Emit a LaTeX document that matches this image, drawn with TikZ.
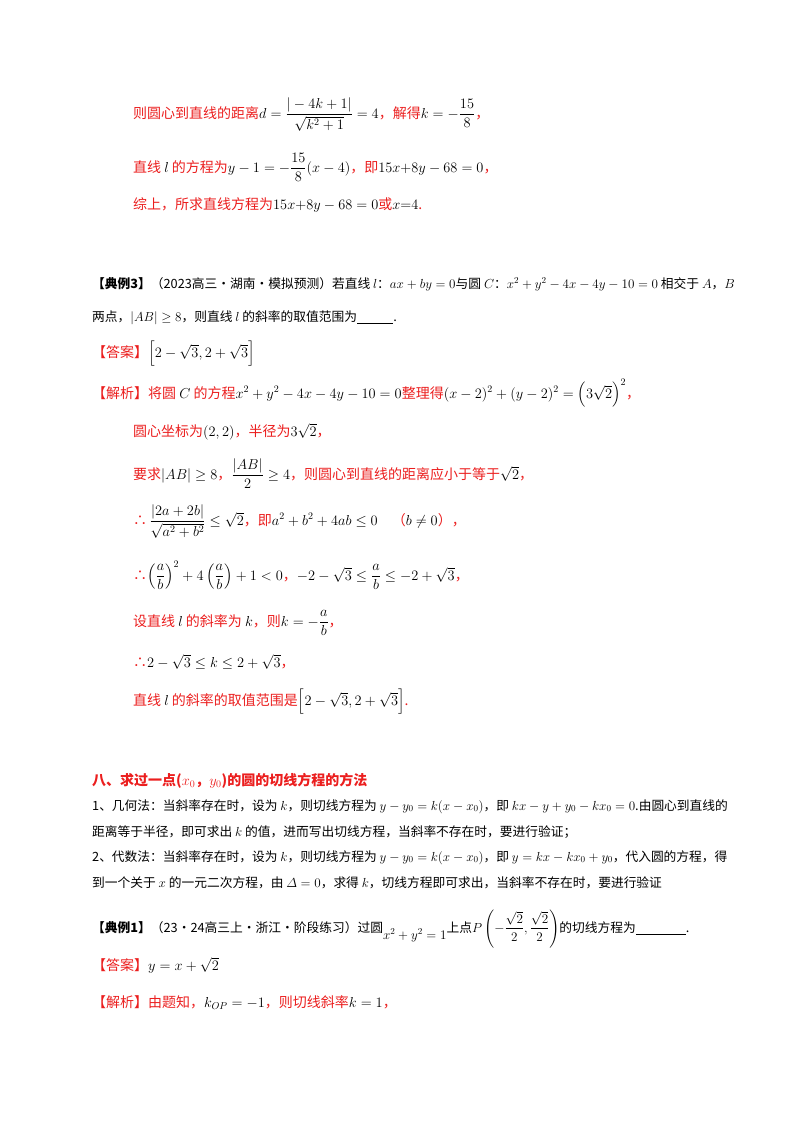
\documentclass[tikz,border=0pt]{standalone}
\usepackage{amsmath,amssymb}
\usepackage{fontspec}
\setmainfont{Liberation Serif}
\newfontfamily\cjk{Noto Sans CJK SC}
\definecolor{rd}{RGB}{235,30,30}
\begin{document}
\begin{tikzpicture}[x=1pt,y=-1pt,
  ln/.style={anchor=base west,inner sep=0pt,font=\cjk\fontsize{14}{17}\selectfont},
  rl/.style={ln,text=rd},
  bl/.style={ln,text=black,scale=0.91,transform shape}]
\useasboundingbox (0,0) rectangle (800,1132);
\newcommand{\bk}[1]{\textcolor{black}{#1}}
\node[rl] (l1) at (133,118) {则圆心到直线的距离\bk{$d=\dfrac{|-4k+1|}{\sqrt{k^2+1}}=4$}，解得\bk{$k=-\dfrac{15}{8}$}，};
\node[rl] (l2) at (133,172) {直线 \bk{$l$} 的方程为\bk{$y-1=-\dfrac{15}{8}(x-4)$}，即\bk{$15x{+}8y-68=0$}，};
\node[rl] (l3) at (133,209) {综上，所求直线方程为\bk{$15x{+}8y-68=0$}或\bk{$x{=}4$}.};
\node[bl] (l4) at (92,288) {\textbf{【典例3】}（2023高三·湖南·模拟预测）若直线 $l$：$ax+by=0$与圆 $C$：$x^2+y^2-4x-4y-10=0$ 相交于 $A$，$B$};
\node[bl] (l5) at (92,321) {两点，$|AB|\ge 8$，则直线 $l$ 的斜率的取值范围为\underline{\hspace{40pt}}.};
\node[rl] (l6) at (92,357) {【答案】\bk{$\left[2-\sqrt3,2+\sqrt3\right]$}};
\node[rl] (l7) at (92,398) {【解析】将圆 \bk{$C$} 的方程\bk{$x^2+y^2-4x-4y-10=0$}整理得\bk{$(x-2)^2+(y-2)^2=\left(3\sqrt2\right)^2$}，};
\node[rl] (l8) at (133,436) {圆心坐标为\bk{$(2,2)$}，半径为\bk{$3\sqrt2$}，};
\node[rl] (l9) at (133,479) {要求\bk{$|AB|\ge 8$}，\bk{$\dfrac{|AB|}{2}\ge 4$}，则圆心到直线的距离应小于等于\bk{$\sqrt2$}，};
\node[rl] (l10) at (133,525) {∴\,\bk{$\dfrac{|2a+2b|}{\sqrt{a^2+b^2}}\le\sqrt2$}，即\bk{$a^2+b^2+4ab\le 0$}\quad（\bk{$b\ne0$}），};
\node[rl] (l11) at (133,580) {∴\bk{$\left(\dfrac ab\right)^2+4\left(\dfrac ab\right)+1<0$}，\bk{$-2-\sqrt3\le\dfrac ab\le-2+\sqrt3$}，};
\node[rl] (l12) at (133,626) {设直线 \bk{$l$} 的斜率为 \bk{$k$}，则\bk{$k=-\dfrac ab$}，};
\node[rl] (l13) at (133,667) {∴\bk{$2-\sqrt3\le k\le 2+\sqrt3$}，};
\node[rl] (l14) at (133,705) {直线 \bk{$l$} 的斜率的取值范围是\bk{$\left[2-\sqrt3,2+\sqrt3\right]$}.};
\node[rl,font=\cjk\bfseries\fontsize{14}{17}\selectfont] (l15) at (92,785) {八、求过一点($x_0$，$y_0$)的圆的切线方程的方法};
\node[bl] (l16) at (92,810) {1、几何法：当斜率存在时，设为 $k$，则切线方程为 $y-y_0=k(x-x_0)$，即 $kx-y+y_0-kx_0=0$.由圆心到直线的};
\node[bl] (l17) at (92,836) {距离等于半径，即可求出 $k$ 的值，进而写出切线方程，当斜率不存在时，要进行验证；};
\node[bl] (l18) at (92,861) {2、代数法：当斜率存在时，设为 $k$，则切线方程为 $y-y_0=k(x-x_0)$，即 $y=kx-kx_0+y_0$，代入圆的方程，得};
\node[bl] (l19) at (92,887) {到一个关于 $x$ 的一元二次方程，由 $\varDelta=0$，求得 $k$，切线方程即可求出，当斜率不存在时，要进行验证};
\node[bl] (l20) at (92,932) {\textbf{【典例1】}（23·24高三上·浙江·阶段练习）过圆\raisebox{-8pt}{$x^2+y^2=1$}上点$P\left(-\dfrac{\sqrt2}{2},\dfrac{\sqrt2}{2}\right)$的切线方程为\underline{\hspace{55pt}}.};
\node[rl] (l21) at (92,970) {【答案】\bk{$y=x+\sqrt2$}};
\node[rl] (l22) at (92,1007) {【解析】由题知，\bk{$k_{OP}=-1$}，则切线斜率\bk{$k=1$}，};
\end{tikzpicture}
\end{document}
